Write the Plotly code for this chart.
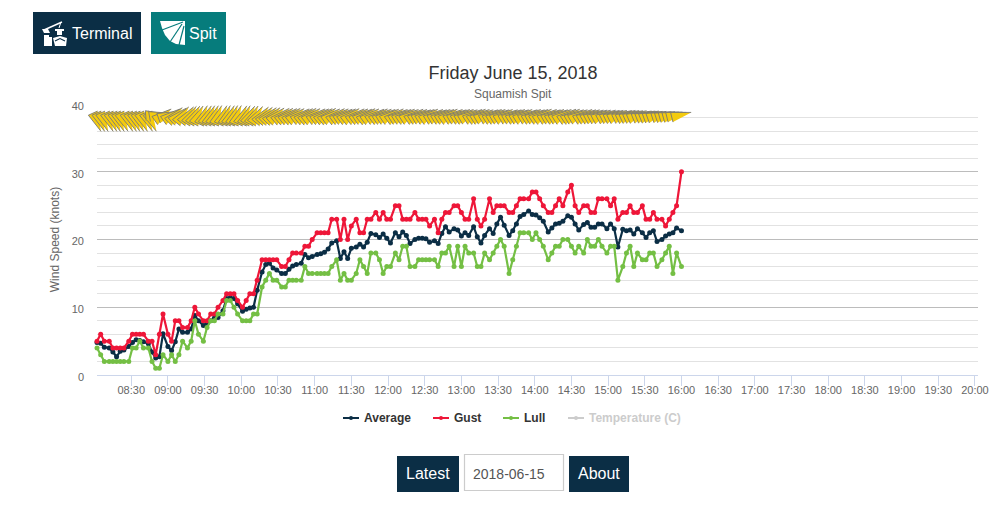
import math
import plotly.graph_objects as go

FONT = "Liberation Sans"
NAVY = "#0b2e45"
TEAL = "#067c7c"
RED = "#ee1638"
GREEN = "#74bf44"

sample_minutes = [
    482,485,488,492,495,498,501,504,508,511,
    514,517,520,524,527,530,533,536,540,543,
    546,549,552,556,559,562,565,569,572,575,
    578,581,585,588,591,594,597,601,604,607,
    610,613,617,620,623,626,629,633,636,639,
    642,645,649,652,655,658,662,665,668,671,
    674,678,681,684,687,690,694,697,700,703,
    706,710,713,716,719,722,726,729,732,735,
    738,742,745,748,751,754,758,761,764,767,
    770,774,777,780,783,786,790,793,796,799,
    803,806,809,812,815,819,822,825,828,831,
    835,838,841,844,847,851,854,857,860,863,
    867,870,873,876,880,883,886,889,892,895,
    899,902,905,908,912,915,918,921,924,928,
    931,934,937,940,944,947,950,953,956,960,
]

average = [
    4.8,4.7,4.1,4.0,3.4,2.7,3.5,3.7,4.2,4.8,
    5.2,5.1,4.9,4.6,3.4,2.5,2.7,6.1,4.2,3.6,
    4.9,6.8,6.3,6.3,6.8,8.8,8.0,7.3,7.6,8.0,
    8.4,8.5,9.5,11.3,11.4,11.3,10.5,9.4,9.7,9.9,
    10.0,12.5,15.2,16.3,16.5,15.8,15.5,15.0,15.0,15.6,
    16.1,16.3,16.5,17.8,17.3,17.5,17.8,17.9,18.1,18.6,
    19.5,19.8,17.2,18.2,17.2,18.7,18.9,19.3,18.9,19.6,
    20.9,20.7,20.3,20.8,20.2,19.5,21.0,20.4,21.1,20.6,
    19.4,20.0,20.2,20.2,20.1,19.6,19.8,19.4,20.9,21.9,
    21.1,21.6,21.4,20.5,21.0,20.6,21.9,20.4,19.5,20.6,
    21.6,20.9,22.3,23.3,22.1,20.6,21.3,22.3,23.4,23.7,
    24.2,23.7,23.6,23.2,22.7,21.1,21.7,22.3,22.4,22.7,
    23.5,23.3,22.3,21.4,22.2,22.5,21.8,21.8,22.3,22.3,
    21.6,22.3,21.6,18.9,21.5,21.3,21.4,20.8,21.6,21.0,
    20.3,21.0,21.3,19.7,20.0,20.5,20.8,21.0,21.7,21.3,
]

gust = [
    5,6,5,5,4,4,4,4,5,6,
    6,6,6,5,5,3,6,9,6,5,
    8,8,7,7,8,10,9,8,8,9,
    9,10,11,12,12,12,11,10,11,12,
    12,14,17,17,17,17,17,16,16,17,
    18,18,18,19,19,20,21,21,21,21,
    23,23,20,23,20,22,23,21,21,23,
    23,24,23,24,23,23,25,25,23,23,
    23,24,23,23,23,22,23,21,23,24,
    24,25,25,24,23,23,26,23,22,23,
    26,24,25,25,25,24,24,25,26,26,
    26,27,27,26,25,24,24,25,26,25,
    27,28,25,24,25,25,24,24,26,26,
    26,25,26,23,24,24,25,24,24,25,
    23,23,24,23,23,22,23,24,25,30,
]

lull = [
    4,3,2,2,2,2,2,2,2,4,
    4,5,4,4,2,1,1,3,2,3,
    2,3,5,4,5,8,6,5,7,8,
    8,9,9,11,11,10,9,8,8,8,
    9,9,13,14,15,14,14,13,13,14,
    14,14,14,16,15,15,15,15,15,15,
    16,17,14,15,14,14,15,17,16,15,
    18,18,17,15,16,16,18,17,19,19,
    16,16,17,17,17,17,17,16,18,18,
    19,16,19,16,19,18,18,16,16,18,
    17,18,19,20,19,15,17,19,21,21,
    21,20,21,20,19,17,18,19,19,20,
    20,19,18,19,18,20,19,19,20,19,
    18,19,19,14,16,18,19,16,18,17,
    17,18,18,16,17,18,19,15,18,16,
]

# Direction each wind arrow points, degrees counter-clockwise from east
wind_angle = [
    -66,-66,-67,-66,-66,-67,-66,-65,-66,-66,
    -67,-66,-66,-65,-64,5,10,35,20,35,
    45,42,52,52,58,60,62,66,64,66,
    66,68,66,68,66,68,68,64,66,60,
    62,56,50,48,45,45,42,40,40,38,
    40,38,36,38,40,38,36,36,38,40,
    36,38,36,34,36,38,36,36,34,38,
    36,34,36,34,32,34,36,32,32,34,
    32,34,32,30,32,34,32,30,32,32,
    34,32,30,32,32,30,32,34,32,30,
    30,32,32,30,32,30,30,32,30,32,
    30,32,30,32,34,32,30,32,30,32,
    34,34,30,30,32,30,30,28,28,28,
    28,26,26,26,25,26,25,24,24,22,
    22,22,20,20,18,18,16,16,14,14,
]
wind_level = [37.3] * 15 + [38.4] * 135

x_tick0 = "2018-06-15 08:00"
x_range = ["2018-06-15 08:02", "2018-06-15 20:02:30"]
# same scale as x_range, reaching further left so arrow tails are not cut off
wind_x_range = ["2018-06-15 07:48:06", "2018-06-15 20:02:30"]


def stamp(m):
    return f"2018-06-15 {m // 60:02d}:{m % 60:02d}"


times = [stamp(m) for m in sample_minutes]

# page geometry of the plotting area
L, R, T, B = 80.0, 978.0, 104.0, 375.0
AXIS_LEFT = 97.0
W, H = 1006, 505


def px(x):
    return (x - L) / (R - L)


def py(y):
    return (B - y) / (B - T)


def rect(x0, y0, x1, y1, fill, line=None, lw=0):
    return dict(type="rect", xref="paper", yref="paper", x0=px(x0), x1=px(x1),
                y0=py(y1), y1=py(y0), fillcolor=fill, layer="above",
                line=dict(color=line or fill, width=lw))


def poly(points, fill=None, line=None, lw=0):
    d = "M " + " L ".join(f"{px(a):.5f},{py(b):.5f}" for a, b in points)
    if fill:
        d += " Z"
    return dict(type="path", xref="paper", yref="paper", path=d, layer="above",
                fillcolor=fill or "rgba(0,0,0,0)",
                line=dict(color=line or fill, width=lw))


def text(x, y, s, size, color, anchor="left", bold=False):
    dx = -2 if anchor == "left" else 0
    return dict(xref="paper", yref="paper", x=px(x + dx), y=py(y), text=f"<b>{s}</b>" if bold else s,
                showarrow=False, xanchor=anchor, yanchor="middle",
                font=dict(family=FONT, size=size, color=color))


def arrow_shape(t, level, deg):
    a = math.radians(deg)
    # stroked from the tip along the leading long edge and across the base;
    # the trailing long edge is filled but not stroked
    side = 5 if deg > 0 else -5
    local = [(10, 0), (-10, side), (-10, -side)]
    pts = [(u * math.cos(a) - v * math.sin(a), u * math.sin(a) + v * math.cos(a)) for u, v in local]
    d = "M " + " L ".join(f"{u:.2f},{v:.2f}" for u, v in pts)
    return dict(type="path", xref="x2", yref="y2", xsizemode="pixel", ysizemode="pixel",
                xanchor=t, yanchor=level, path=d, layer="above", fillcolor="#f4cb0e",
                line=dict(color="#777777", width=0.9))


fig = go.Figure()
fig.add_trace(go.Scatter(x=times, y=wind_level, name="Wind direction", mode="markers", xaxis="x2", yaxis="y2",
                         marker=dict(size=1, opacity=0), hoverinfo="skip", showlegend=False))
for name, vals, col in [("Average", average, NAVY), ("Gust", gust, RED), ("Lull", lull, GREEN)]:
    fig.add_trace(go.Scatter(x=times, y=vals, name=name, mode="lines+markers", cliponaxis=False,
                             line=dict(color=col, width=2.2), marker=dict(color=col, size=5),
                             showlegend=False))

shapes = [arrow_shape(t, v, a) for t, v, a in zip(times, wind_level, wind_angle)]

# top buttons
shapes += [rect(33, 12, 141, 54, NAVY), rect(151, 12, 226, 54, TEAL)]
# Terminal icon
shapes += [
    poly([(44, 30), (62, 22)], line="white", lw=1.4),
    poly([(61, 22), (59, 28)], line="white", lw=1),
    poly([(42, 29), (48, 29), (50, 33), (44, 33)], fill="white"),
    poly([(44, 35), (49, 35), (49, 37), (52, 37), (52, 46), (44, 46)], fill="white"),
    poly([(55, 29), (64, 29), (64, 31), (62, 31), (62, 35), (57, 35), (57, 31), (55, 31)], fill="white"),
    poly([(53, 38), (60, 36), (67, 38), (66, 46), (55, 46)], fill="white"),
    poly([(55, 41), (60, 38.5), (65, 41)], line=NAVY, lw=1.1),
]
# Spit icon
shapes += [
    poly([(160, 21), (185, 21), (185, 45), (176, 44), (170, 41), (165, 35), (162, 28)], fill="white"),
    poly([(183, 22), (162, 30)], line=TEAL, lw=1.2),
    poly([(182, 24), (170, 42)], line=TEAL, lw=1.2),
    poly([(184, 26), (179, 45)], line=TEAL, lw=1.2),
]
# bottom controls
shapes += [
    rect(397, 456, 459, 492, NAVY),
    rect(569, 456, 629, 492, NAVY),
    rect(464.5, 454.5, 563.5, 490.5, "white", "#cccccc", 1.2),
]

annotations = [
    text(72, 33, "Terminal", 16, "white"),
    text(189, 33, "Spit", 16, "white"),
    text(513, 94.5, "Squamish Spit", 12, "#666666", "center"),
    text(428, 473.5, "Latest", 16, "white", "center"),
    text(599, 473.5, "About", 16, "white", "center"),
    text(473, 473.5, "2018-06-15", 14, "#555555"),
]

# legend row
for x0, label, col, tcol in [(343, "Average", NAVY, "#333333"), (433, "Gust", RED, "#333333"),
                             (503, "Lull", GREEN, "#333333"),
                             (568, "Temperature (C)", "#cccccc", "#cccccc")]:
    shapes.append(poly([(x0, 418), (x0 + 16, 418)], line=col, lw=2))
    shapes.append(dict(type="circle", xref="paper", yref="paper", x0=px(x0 + 6), x1=px(x0 + 10),
                       y0=py(420), y1=py(416), fillcolor=col, line=dict(color=col, width=0), layer="above"))
    annotations.append(text(x0 + 21, 417.8, label, 12, tcol, bold=True))

fig.update_layout(
    width=W, height=H, autosize=False,
    margin=dict(l=L, r=W - R, t=T, b=H - B, pad=0),
    paper_bgcolor="white", plot_bgcolor="rgba(0,0,0,0)",
    font=dict(family=FONT, color="#666666", size=11),
    showlegend=False,
    title=dict(text="Friday June 15, 2018", x=513 / W, xanchor="center", y=1 - 73 / H, yanchor="middle",
               font=dict(family=FONT, size=18, color="#333333")),
    xaxis=dict(type="date", range=x_range, domain=[(AXIS_LEFT - L) / (R - L), 1], tick0=x_tick0,
               dtick=30 * 60 * 1000, tickformat="%H:%M",
               showgrid=False, zeroline=False, showline=True, linecolor="#ccd6eb", linewidth=1,
               ticks="outside", ticklen=10, tickcolor="#ccd6eb", tickwidth=1, ticklabelstandoff=-5,
               tickfont=dict(family=FONT, size=11, color="#666666")),
    yaxis=dict(range=[0, 40], dtick=10, tick0=0, showgrid=True, gridcolor="#bcbcbc", gridwidth=1,
               zeroline=False, showline=False, ticks="", ticklabelstandoff=12, ticklabelshift=2,
               minor=dict(dtick=2, showgrid=True, gridcolor="#e2e2e2", gridwidth=1, ticks=""),
               tickfont=dict(family=FONT, size=11, color="#666666"),
               title=dict(text="Wind Speed (knots)", standoff=9,
                          font=dict(family=FONT, size=12, color="#666666"))),
    xaxis2=dict(type="date", range=wind_x_range, domain=[0, 1], anchor="y2", visible=False),
    yaxis2=dict(range=[0, 40], anchor="x2", visible=False, showgrid=False),
    shapes=shapes,
    annotations=annotations,
)

fig.write_html("out.html", config={"displayModeBar": False},
               post_script="document.body.style.margin='0';document.documentElement.style.overflow='hidden';")
